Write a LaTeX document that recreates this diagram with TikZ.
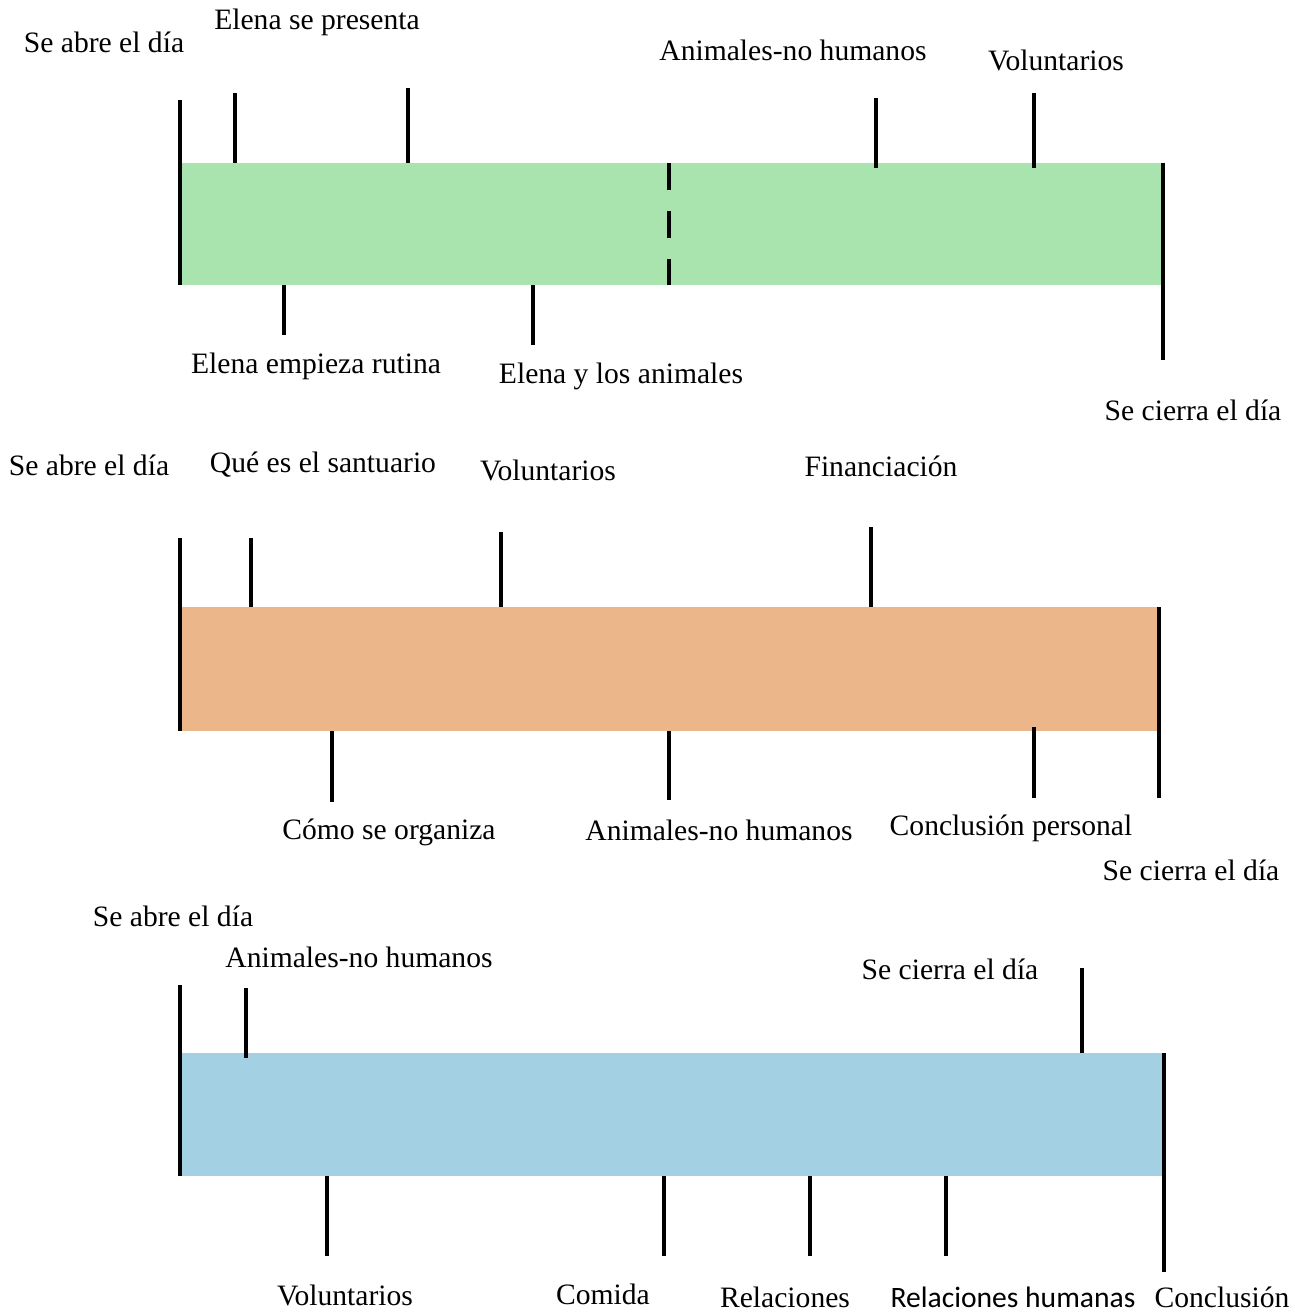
\documentclass[tikz,border=0pt]{standalone}
\usepackage{fontspec}
\setmainfont{Liberation Serif}
\newfontfamily\calibrilike{Carlito}
\usepackage{xcolor}
\usetikzlibrary{arrows.meta}
\definecolor{barGreen}{RGB}{169,228,174}
\definecolor{barOrange}{RGB}{234,182,138}
\definecolor{barBlue}{RGB}{163,208,226}
\tikzset{
  tick/.style={line width=2pt, black},
  lbl/.style={font=\fontsize{14.8}{17}\selectfont, inner sep=0pt}
}
\begin{document}
\begin{tikzpicture}[x=0.5pt, y=-0.5pt]
	\useasboundingbox (0,0) rectangle (1295,1314);
		% first day
		\fill [barGreen] (180,163) rectangle (1163,285);
		\draw [tick] (180,100) to (180,285);
		\draw [tick] (1163,163) to (1163,360);
		\draw [tick] (235,93) to (235,163);
		\draw [tick] (408,88) to (408,163);
		\draw [tick] (876,98) to (876,168);
		\draw [tick] (1034,93) to (1034,168);
		\draw [tick] (284,285) to (284,335);
		\draw [tick] (533,285) to (533,345);
		\draw [tick, dash pattern=on 13.5pt off 10.5pt] (669,163) to (669,285);
		\node [lbl] (abre1) at (104,42) {Se abre el día};
		\node [lbl] (presenta) at (317,22) {Elena se presenta};
		\node [lbl] (animales1) at (793,50) {Animales-no humanos};
		\node [lbl] (volunt1) at (1056,60) {Voluntarios};
		\node [lbl] (rutina) at (316,366) {Elena empieza rutina};
		\node [lbl] (losanimales) at (621,376) {Elena y los animales};
		\node [lbl] (cierra1) at (1193,410) {Se cierra el día};
		% second day
		\fill [barOrange] (180,607) rectangle (1159,731);
		\draw [tick] (180,538) to (180,731);
		\draw [tick] (1159,607) to (1159,798);
		\draw [tick] (251,538) to (251,607);
		\draw [tick] (501,532) to (501,607);
		\draw [tick] (871,527) to (871,607);
		\draw [tick] (332,731) to (332,802);
		\draw [tick] (669,731) to (669,800);
		\draw [tick] (1034,727) to (1034,798);
		\node [lbl] (abre2) at (89,465) {Se abre el día};
		\node [lbl] (santuario) at (323,465) {Qué es el santuario};
		\node [lbl] (volunt2) at (548,470) {Voluntarios};
		\node [lbl] (financ) at (881,466) {Financiación};
		\node [lbl] (organiza) at (389,832) {Cómo se organiza};
		\node [lbl] (animales2) at (719,830) {Animales-no humanos};
		\node [lbl] (personal) at (1011,828) {Conclusión personal};
		\node [lbl] (cierra2) at (1191,870) {Se cierra el día};
		% third day
		\fill [barBlue] (180,1053) rectangle (1164,1176);
		\draw [tick] (180,985) to (180,1176);
		\draw [tick] (1164,1053) to (1164,1272);
		\draw [tick] (246,988) to (246,1058);
		\draw [tick] (1082,968) to (1082,1053);
		\draw [tick] (327,1176) to (327,1256);
		\draw [tick] (664,1176) to (664,1256);
		\draw [tick] (810,1176) to (810,1256);
		\draw [tick] (946,1176) to (946,1256);
		\node [lbl] (abre3) at (173,916) {Se abre el día};
		\node [lbl] (animales3) at (359,957) {Animales-no humanos};
		\node [lbl] (cierra3) at (950,969) {Se cierra el día};
		\node [lbl] (volunt3) at (345,1295) {Voluntarios};
		\node [lbl] (comida) at (603,1294) {Comida};
		\node [lbl] (relac) at (785,1297) {Relaciones};
		\node [lbl, font=\calibrilike\fontsize{14.8}{17}\selectfont] (humanas) at (1013,1297) {Relaciones humanas};
		\node [lbl] (conclusion) at (1222,1297) {Conclusión};
	\end{tikzpicture}
\end{document}
